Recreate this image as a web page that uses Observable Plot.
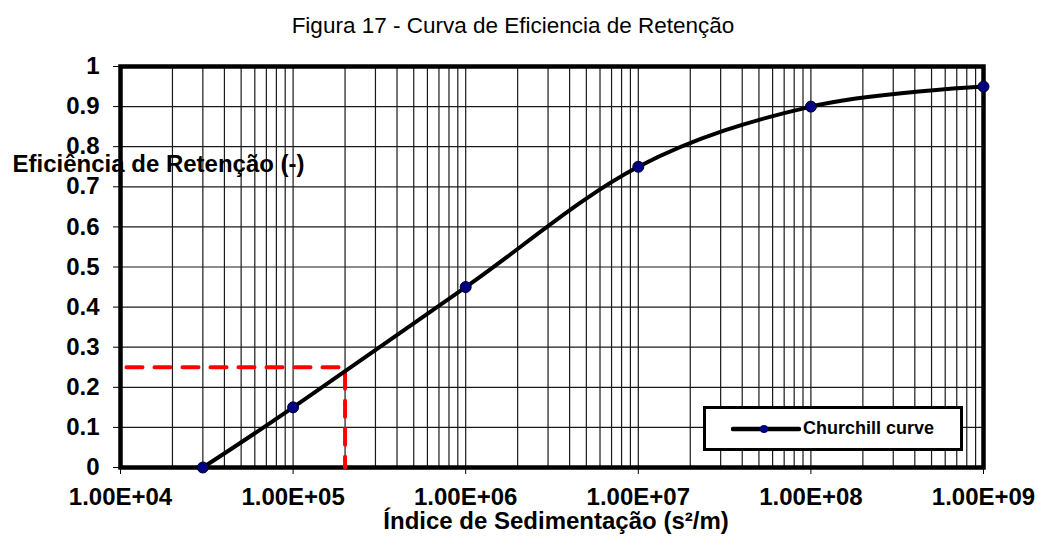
<!DOCTYPE html>
<html>
<head>
<meta charset="utf-8">
<script src="https://cdn.jsdelivr.net/npm/d3@7"></script>
<script src="https://cdn.jsdelivr.net/npm/@observablehq/plot@0.6"></script>
<style>
  html, body { margin: 0; padding: 0; background: #fff; }
  #wrap { position: relative; width: 1038px; height: 538px; font-family: "Liberation Sans", Arial, sans-serif; }
  #title { position: absolute; left: 0; width: 1026px; top: 14px; text-align: center; font-size: 22.5px; line-height: 23px; color: #000; }
  #chart { position: absolute; left: 0; top: 50px; }
  #legend { position: absolute; left: 703px; top: 406px; width: 260px; height: 45px; box-sizing: border-box;
            border: 3px solid #000; background: #fff; display: flex; align-items: center; }
  #legend svg { margin-left: 25px; }
  #legend span { font-weight: bold; font-size: 18px; color: #000; margin-left: 2px; }
</style>
</head>
<body>
<div id="wrap">
  <div id="title">Figura 17 - Curva de Eficiencia de Retenção</div>
  <div id="chart"></div>
  <div id="legend">
    <svg width="70" height="14"><line x1="2" y1="7" x2="68" y2="7" stroke="#000" stroke-width="4.5" stroke-linecap="round"/><circle cx="33" cy="7" r="4" fill="#000080"/></svg>
    <span>Churchill curve</span>
  </div>
</div>
<script>
// Churchill curve data
const sedIndex = [3e4, 1e5, 1e6, 1e7, 1e8, 1e9];
const efficiency = [0, 0.15, 0.45, 0.75, 0.90, 0.95];
// Red dashed reading guide
const guideX = [1e4, 2e5, 2e5];
const guideY = [0.25, 0.25, 0];
// Axis ticks / labels
const xTicks = [1e4, 1e5, 1e6, 1e7, 1e8, 1e9];
const xTickLabels = ["1.00E+04", "1.00E+05", "1.00E+06", "1.00E+07", "1.00E+08", "1.00E+09"];
const yTicks = [0, 0.1, 0.2, 0.3, 0.4, 0.5, 0.6, 0.7, 0.8, 0.9, 1];
const yTickLabels = ["0", "0.1", "0.2", "0.3", "0.4", "0.5", "0.6", "0.7", "0.8", "0.9", "1"];
const seriesName = "Churchill curve";
const yTitle = "Eficiência de Retenção (-)";
const xTitle = "Índice de Sedimentação (s²/m)";

const curve = sedIndex.map((x, i) => ({x, y: efficiency[i]}));
const guide = guideX.map((x, i) => ({x, y: guideY[i]}));
const minorX = d3.scaleLog().domain([xTicks[0], xTicks[xTicks.length - 1]]).ticks();

const chart = Plot.plot({
  width: 1038,
  height: 488,
  marginLeft: 120,
  marginRight: 55,
  marginTop: 16,
  marginBottom: 71,
  style: {fontFamily: "'Liberation Sans', Arial, sans-serif", fontSize: "24px", fontWeight: "bold", color: "#000", background: "transparent", overflow: "visible"},
  x: {type: "log", domain: [xTicks[0], xTicks[xTicks.length - 1]], ticks: xTicks,
      tickFormat: d => xTickLabels[xTicks.indexOf(d)], tickSize: 7, tickPadding: 13, label: null},
  y: {domain: [0, 1], ticks: yTicks, tickFormat: d => yTickLabels[yTicks.indexOf(d)], tickSize: 7, tickPadding: 14, label: null},
  marks: [
    Plot.ruleX(minorX, {stroke: "#1a1a1a", strokeWidth: 1.2}),
    Plot.ruleY(yTicks, {stroke: "#1a1a1a", strokeWidth: 1.2}),
    Plot.frame({stroke: "#000", strokeWidth: 4.5}),
    Plot.line(guide, {x: "x", y: "y", stroke: "#ff0000", strokeWidth: 4, strokeDasharray: "16,12", strokeDashoffset: -6}),
    Plot.line(curve, {x: "x", y: "y", curve: "cardinal", stroke: "#000", strokeWidth: 4}),
    Plot.dot(curve, {x: "x", y: "y", r: 5.5, fill: "#000080", stroke: "#000033", strokeWidth: 1}),
    Plot.text([yTitle], {text: d => d, frameAnchor: "top-left", textAnchor: "start", lineAnchor: "middle", dx: -108, dy: 98, fill: "#000", fontWeight: "bold", fontSize: 24}),
    Plot.text([xTitle], {text: d => d, frameAnchor: "bottom", textAnchor: "middle", lineAnchor: "middle", dx: 4, dy: 54, fill: "#000", fontWeight: "bold", fontSize: 24})
  ]
});
document.getElementById("chart").appendChild(chart);
</script>
</body>
</html>
